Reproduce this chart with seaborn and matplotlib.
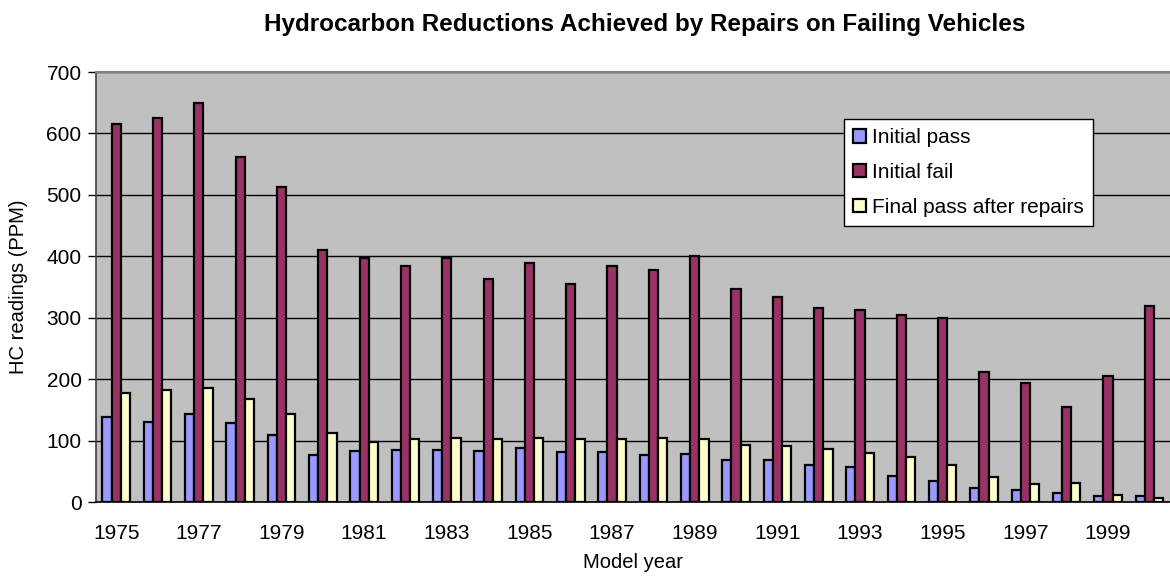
import matplotlib
matplotlib.use("Agg")
import matplotlib.pyplot as plt
from matplotlib.patches import Patch
import numpy as np
import pandas as pd
import seaborn as sns

# Model years and HC readings (PPM) per test stage
years = list(range(1975, 2001))
initial_pass = [139, 131, 143, 128, 109, 76, 83, 84, 85, 83, 88, 81, 82, 76, 78, 69,
                69, 60, 57, 43, 34, 22, 20, 15, 10, 9]
initial_fail = [615, 625, 650, 561, 513, 410, 398, 385, 398, 363, 389, 355, 385, 378,
                400, 347, 334, 316, 312, 305, 300, 212, 193, 155, 205, 319]
final_pass = [178, 183, 186, 167, 143, 112, 98, 103, 105, 102, 104, 103, 102, 105, 103,
              93, 91, 87, 80, 73, 61, 40, 29, 31, 12, 6]
series_names = ["Initial pass", "Initial fail", "Final pass after repairs"]
colors = ["#9999FF", "#993366", "#FFFFCC"]

df = pd.DataFrame({
    "Model year": [str(y) for y in years] * 3,
    "HC": initial_pass + initial_fail + final_pass,
    "Series": np.repeat(series_names, len(years)),
})

sns.set_style("white")
plt.rcParams["font.family"] = ["Liberation Sans", "DejaVu Sans"]
plt.rcParams.update({"text.color": "black", "axes.labelcolor": "black",
                     "xtick.color": "black", "ytick.color": "black"})

fig = plt.figure(figsize=(11.7, 5.79), dpi=100)
ax = fig.add_axes([95.5 / 1170, 1 - 502 / 579, 1 - 95.5 / 1170, (502 - 72) / 579])
ax.set_facecolor("#C0C0C0")

sns.barplot(data=df, x="Model year", y="HC", hue="Series", hue_order=series_names,
            palette=colors, width=0.667, edgecolor="black", linewidth=1.6,
            saturation=1, errorbar=None, ax=ax, legend=False, zorder=3)

ax.set_xlim(-0.5, 25.36)
ax.set_ylim(0, 700)
ax.set_yticks(range(0, 701, 100))
ax.yaxis.grid(True, color="black", linewidth=1.0, zorder=1)
ax.set_axisbelow(True)

# Category labels every other year, tick marks at category boundaries
ax.set_xticks(range(0, 26, 2))
ax.set_xticklabels([str(y) for y in years[::2]])
ax.set_xticks(np.arange(-0.5, 26, 1), minor=True)
ax.tick_params(axis="x", which="major", length=0, pad=16, labelsize=15)
ax.tick_params(axis="x", which="minor", length=6, width=1, color="black", direction="out")
ax.tick_params(axis="y", which="major", length=6, width=1, color="black",
               direction="out", left=True, labelsize=15, pad=4)

ax.spines["right"].set_visible(False)
ax.spines["top"].set_color("#808080")
ax.spines["top"].set_linewidth(1.5)
ax.spines["left"].set_color("#404040")
ax.spines["left"].set_linewidth(1.2)
ax.spines["bottom"].set_color("black")
ax.spines["bottom"].set_linewidth(1.2)

ax.set_xlabel("Model year", fontsize=14.5, labelpad=7)
ax.set_ylabel("HC readings (PPM)", fontsize=14.5, labelpad=13)

handles = [Patch(facecolor=c, edgecolor="black", linewidth=1.6) for c in colors]
leg = ax.legend(handles, series_names, loc="upper left",
                bbox_to_anchor=((844 - 95.5) / 1074.5, (502 - 119) / 430),
                borderaxespad=0, frameon=True, fancybox=False, framealpha=1,
                edgecolor="black", facecolor="white", fontsize=15,
                handlelength=0.62, handleheight=0.62, handletextpad=0.27,
                labelspacing=0.75, borderpad=0.45)
leg.get_frame().set_linewidth(1.0)
leg.set_zorder(5)

fig.text(645 / 1170, 1 - 24 / 579, "Hydrocarbon Reductions Achieved by Repairs on Failing Vehicles",
         ha="center", va="center", fontsize=17.5, fontweight="bold")

fig.savefig("out.png", dpi=100)
